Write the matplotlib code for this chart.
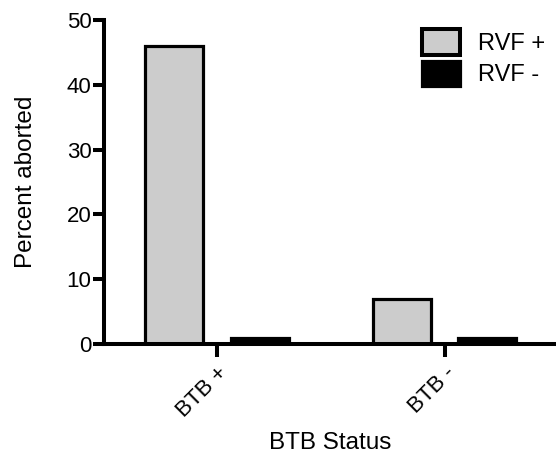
import matplotlib
matplotlib.use("Agg")
import matplotlib.pyplot as plt
import numpy as np

categories = ["BTB +", "BTB -"]
series_names = ["RVF +", "RVF -"]
rvf_pos = [46, 7]
rvf_neg = [1, 1]

plt.rcParams['font.family'] = ['Liberation Sans', 'DejaVu Sans']

fig = plt.figure(figsize=(5.56, 4.59), dpi=100)
ax = fig.add_axes([104/556, 1-344/459, 1-104/556, (344-20)/459])

x = np.arange(len(categories))
w = 0.255
off = 0.188
lw_edge = 2.3
b1 = ax.bar(x - off, rvf_pos, w, color='#cccccc', edgecolor='black', linewidth=lw_edge, label=series_names[0])
b2 = ax.bar(x + off, rvf_neg, w, color='black', edgecolor='black', linewidth=lw_edge, label=series_names[1])

ax.set_xlim(-0.497, 1.49)
ax.set_ylim(0, 50)
ax.set_yticks([0, 10, 20, 30, 40, 50])
ax.set_xticks(x)
ax.set_xticklabels(categories, rotation=45, ha='right', rotation_mode='anchor')

for s in ['top', 'right']:
    ax.spines[s].set_visible(False)
for s in ['left', 'bottom']:
    ax.spines[s].set_linewidth(2.9)
ax.tick_params(axis='y', direction='out', length=8, width=2.9, labelsize=16, pad=1)
ax.tick_params(axis='x', direction='out', length=9, width=2.9, labelsize=16, pad=4)

ax.set_ylabel("Percent aborted", fontsize=17.5, labelpad=21)
ax.set_xlabel("BTB Status", fontsize=17.5, labelpad=8)

leg = ax.legend(loc='upper left', bbox_to_anchor=(422/556, 1-29/459), bbox_transform=fig.transFigure,
                frameon=False, fontsize=17, handlelength=1.62, handleheight=1.3,
                labelspacing=0.25, handletextpad=0.75, borderaxespad=0, borderpad=0)
leg.get_patches()[0].set_linewidth(2.9)

fig.savefig("out.png", dpi=100)
